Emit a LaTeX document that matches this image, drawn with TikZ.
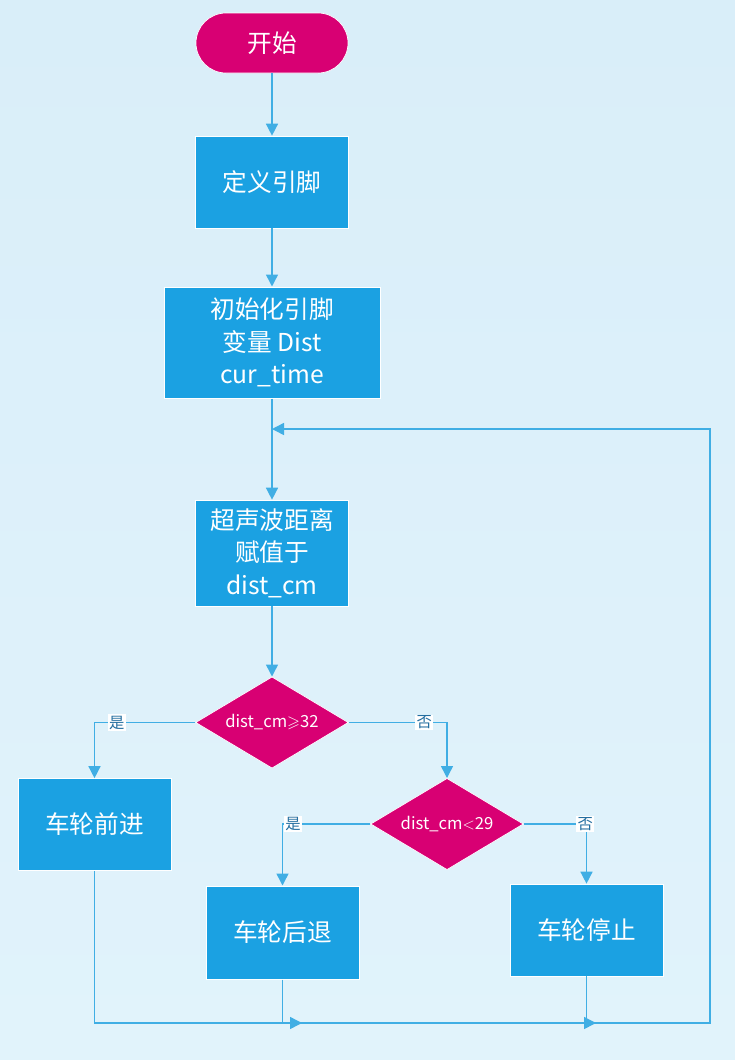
\documentclass[tikz,border=0pt]{standalone}
\usepackage{fontspec}
\setmainfont{Noto Sans CJK SC}
\usepackage{amssymb}
\usepackage{tikz}
\usetikzlibrary{arrows.meta,shapes.geometric}
\definecolor{bgtop}{RGB}{217,238,249}
\definecolor{bgbottom}{RGB}{225,243,251}
\definecolor{boxblue}{RGB}{27,161,226}
\definecolor{flowred}{RGB}{216,0,115}
\definecolor{linkblue}{RGB}{64,174,228}
\definecolor{labelblue}{RGB}{35,110,160}

\begin{document}
\begin{tikzpicture}[x=0.75pt,y=-0.75pt,-{Triangle[width=9pt,length=9pt]},draw=linkblue,line width=1.1pt]
    \tikzstyle{block}=[rectangle,fill=boxblue,draw=white,line width=0.5pt,text=white,align=center,
        minimum width=115pt,minimum height=69pt,font=\fontsize{18.5}{24.5}\selectfont]
    \tikzstyle{start}=[block,fill=flowred,rounded corners=22.5pt,minimum width=114pt,minimum height=45pt]
    \tikzstyle{decide}=[diamond,aspect=1.68,fill=flowred,draw=white,line width=0.5pt,text=white,inner sep=0pt,
        minimum width=114.5pt,minimum height=68.5pt,font=\fontsize{12.5}{14}\selectfont]
    \tikzstyle{yesno}=[fill=white,inner sep=1pt,text=labelblue,font=\fontsize{11.5}{13}\selectfont]

    % background
    \shade[top color=bgtop,bottom color=bgbottom] (0,0) rectangle (735,1060);
    \useasboundingbox (0,0) rectangle (735,1060);

    % Draw the main column
    \node[start] (begin) at (272,43) {开始};
    \node[block] (pins) at (272,182) {定义引脚};
    \node[block,minimum width=162pt,minimum height=83.5pt] (init) at (272,342.5) {初始化引脚\\变量 Dist\\cur\_time};
    \node[block,minimum height=79.5pt] (sonar) at (272,553) {超声波距离\\赋值于\\dist\_cm};
    \node[decide] (far) at (272,722.5) {dist\_cm$\geqslant$32};

    % Draw the branches
    \node[block] (ahead) at (94.5,824.5) {车轮前进};
    \node[decide] (near) at (447,824) {dist\_cm$<$29};
    \node[block,minimum height=70pt] (back) at (282.5,932.5) {车轮后退};
    \node[block] (halt) at (586.5,930) {车轮停止};

    % Points on the loop lines
    \coordinate (join) at (272,429);
    \coordinate (corner) at (710,1023);
    \coordinate (m1) at (302,1023);
    \coordinate (m2) at (596,1023);

    \path (begin) edge (pins);
    \path (pins) edge (init);
    \path (init) edge (sonar);
    \path (sonar) edge (far);

    \draw (far.west) -| node[yesno,pos=0.39] {是} (ahead.north);
    \draw (far.east) -| node[yesno,pos=0.385] {否} (near.north);
    \draw (near.west) -| node[yesno,pos=0.44] {是} (back.north);
    \draw (near.east) -| node[yesno,pos=0.49] {否} (halt.north);

    % Join everything at the bottom and go back up
    \draw (ahead.south) |- (m1);
    \draw (back.south) |- (m2);
    \draw (halt.south) |- (corner) |- (join);
\end{tikzpicture}
\end{document}
